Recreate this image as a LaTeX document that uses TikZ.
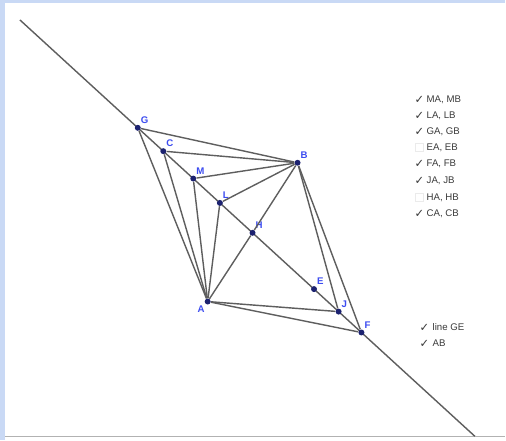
\documentclass[tikz,border=0pt]{standalone}
\usepackage{fontspec}
\setsansfont{Liberation Sans}
\newfontfamily\checkfont{DejaVu Sans}
\usetikzlibrary{calc}

\definecolor{panelblue}{HTML}{C9D9F5}
\definecolor{segcol}{HTML}{5E5E5E}
\definecolor{ptcol}{HTML}{1C2270}
\definecolor{lblcol}{HTML}{3C4CF0}
\definecolor{boxtext}{HTML}{3A3A3A}

\pgfdeclarelayer{frame}
\pgfdeclarelayer{back}
\pgfsetlayers{frame,back,main}

\begin{document}
\begin{tikzpicture}[
    x=0.02cm, y=-0.02cm,
    seg/.style={draw=segcol, line width=0.8pt},
    pt/.style={circle, fill=ptcol, inner sep=0pt, minimum size=3.4pt},
    ptlabel/.style={text=lblcol, font=\sffamily\bfseries\fontsize{5.5}{6}\selectfont, inner sep=0.6pt},
    chkmark/.style={text=boxtext, font=\checkfont\fontsize{6.5}{7}\selectfont, inner sep=0pt},
    chktext/.style={anchor=west, text=boxtext, font=\sffamily\fontsize{5.5}{6}\selectfont, inner sep=0pt},
    emptybox/.style={draw=black!8, line width=0.4pt, minimum size=4.5pt, inner sep=0pt}
]

% frame
\begin{pgfonlayer}{frame}
\fill[panelblue] (0,0) rectangle (506,441);
\fill[white] (5,3) rectangle (506,441);
\draw[black!30, line width=0.9pt] (5,437) -- (506,437);
\end{pgfonlayer}

% points on line GE
\node[pt, label={[ptlabel]60:G}] (G) at (138,128) {};
\node[pt, label={[ptlabel]60:F}] (F) at (362,333) {};
\node[pt, label={[ptlabel]60:C}] (C) at ($(G)!0.114!(F)$) {};
\node[pt, label={[ptlabel]60:M}] (M) at ($(G)!0.248!(F)$) {};
\node[pt, label={[ptlabel]60:L}] (L) at ($(G)!0.367!(F)$) {};
\node[pt, label={[ptlabel]60:H}] (H) at ($(G)!0.513!(F)$) {};
\node[pt, label={[ptlabel]60:E}] (E) at ($(G)!0.788!(F)$) {};
\node[pt, label={[ptlabel]60:J}] (J) at ($(G)!0.898!(F)$) {};
% A and B
\node[pt, label={[ptlabel]60:B}] (B) at (298,163) {};
\node[pt, label={[ptlabel]240:A}] (A) at (208,302) {};

% line GE
\begin{pgfonlayer}{back}
\coordinate (top) at ($(G.center)!-0.527!(F.center)$);
\coordinate (bottom) at ($(F.center)!-0.507!(G.center)$);
\draw[seg] (top) -- (bottom);
\end{pgfonlayer}

% segments to A and B
\draw[seg] (G) -- (A);
\draw[seg] (G) -- (B);
\draw[seg] (C) -- (A);
\draw[seg] (C) -- (B);
\draw[seg] (M) -- (A);
\draw[seg] (M) -- (B);
\draw[seg] (L) -- (A);
\draw[seg] (L) -- (B);
\draw[seg] (J) -- (A);
\draw[seg] (J) -- (B);
\draw[seg] (F) -- (A);
\draw[seg] (F) -- (B);
\draw[seg] (A) -- (H) -- (B);

% check boxes
\node[chkmark] (k1) at (420,100) {✓};
\node[chktext] (t1) at (427,100) {MA, MB};
\node[chkmark] (k2) at (420,116) {✓};
\node[chktext] (t2) at (427,116) {LA, LB};
\node[chkmark] (k3) at (420,132) {✓};
\node[chktext] (t3) at (427,132) {GA, GB};
\node[emptybox] (k4) at (420,148) {};
\node[chktext] (t4) at (427,148) {EA, EB};
\node[chkmark] (k5) at (420,164) {✓};
\node[chktext] (t5) at (427,164) {FA, FB};
\node[chkmark] (k6) at (420,181) {✓};
\node[chktext] (t6) at (427,181) {JA, JB};
\node[emptybox] (k7) at (420,198) {};
\node[chktext] (t7) at (427,198) {HA, HB};
\node[chkmark] (k8) at (420,214) {✓};
\node[chktext] (t8) at (427,214) {CA, CB};

\node[chkmark] (k9) at (425,328) {✓};
\node[chktext] (t9) at (433,328) {line GE};
\node[chkmark] (k10) at (425,344) {✓};
\node[chktext] (t10) at (433,344) {AB};

\end{tikzpicture}
\end{document}
